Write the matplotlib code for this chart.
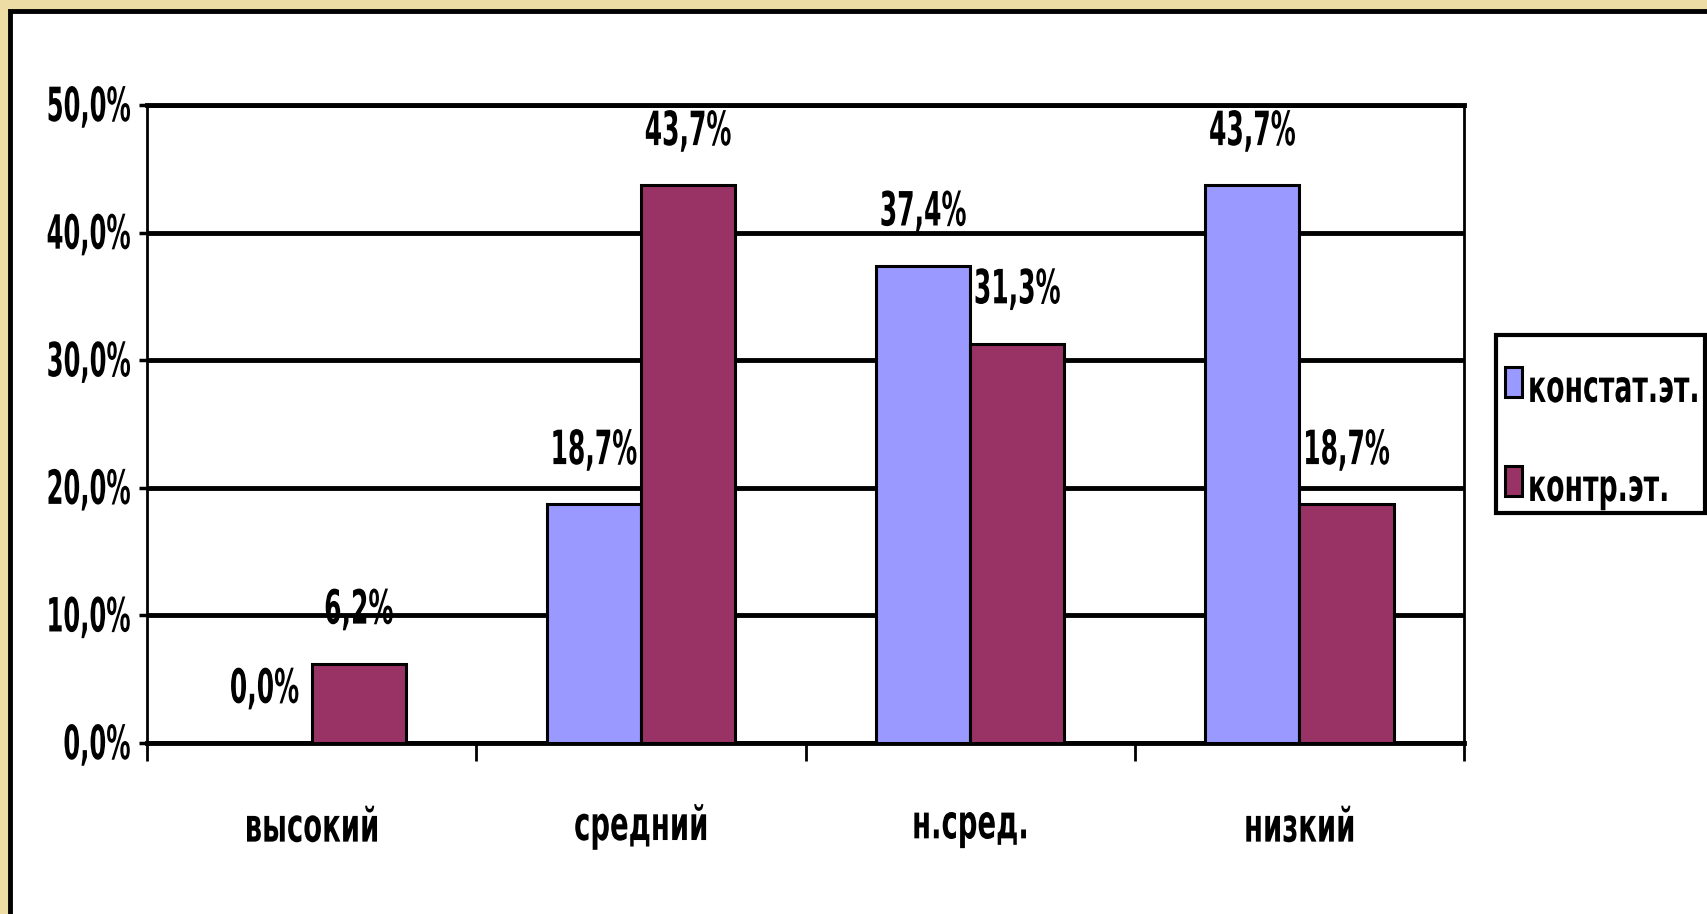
import numpy as np
import matplotlib.pyplot as plt
from matplotlib.patches import Rectangle
from matplotlib.ticker import FixedLocator, FuncFormatter
from matplotlib.transforms import Affine2D
from matplotlib import patheffects

plt.rcParams['font.family'] = ['DejaVu Sans']
plt.rcParams['font.stretch'] = 'condensed'
plt.rcParams['font.weight'] = 'bold'

levels = ["высокий", "средний", "н.сред.", "низкий"]
series = ["констат.эт.", "контр.эт."]
konstat = [0.0, 18.7, 37.4, 43.7]
kontr = [6.2, 43.7, 31.3, 18.7]
colors = ["#9999FF", "#993366"]


class Tall(patheffects.AbstractPathEffect):
    """Stretch glyphs vertically, about the baseline or the middle of the line."""

    def __init__(self, sy, anchor="middle"):
        super().__init__()
        self.sy = sy
        self.anchor = anchor

    def draw_path(self, renderer, gc, tpath, affine, rgbFace=None):
        ext = tpath.get_extents()
        b = 0.0 if self.anchor == "baseline" else (ext.y0 + ext.y1) / 2
        t = Affine2D().translate(0, -b).scale(1, self.sy).translate(0, b) + affine
        renderer.draw_path(gc, tpath, t, rgbFace)


def pct(v):
    return f"{v:.1f}%".replace(".", ",")


W, H = 1707, 914
fig = plt.figure(figsize=(W / 100, H / 100), dpi=100, facecolor="#EEDCA5")

def fx(px):
    return px / W

def fy(py):
    return 1 - py / H

# white card with black frame, cut by the right and bottom edges
card = Rectangle((fx(9.5), -0.05), 1.1, fy(10.5) + 0.05, transform=fig.transFigure,
                 facecolor="white", edgecolor="black", lw=3.5, zorder=-5)
fig.patches.append(card)

ax = fig.add_axes([fx(147), fy(743), fx(1464 - 147), (743 - 105) / H])
ax.set_facecolor("none")

x = np.arange(len(levels))
bw = 0.286
vals = [konstat, kontr]
for i, v in enumerate(vals):
    pos = x + (i - 0.5) * bw
    ax.bar(pos, np.array(v) / 100, bw, color=colors[i], edgecolor="black",
           lw=2.2, zorder=3)
    for px, val in zip(pos, v):
        ax.annotate(pct(val), (px, val / 100), xytext=(0, 29), textcoords="offset points",
                    ha="center", va="baseline", fontsize=20, zorder=4,
                    path_effects=[Tall(1.7, "baseline")])

ax.set_xlim(-0.5, len(levels) - 0.5)
ax.set_ylim(0, 0.5)
ax.set_yticks(np.arange(0, 0.51, 0.1))
ax.yaxis.set_major_formatter(FuncFormatter(lambda v, p: pct(v * 100)))
ax.yaxis.grid(True, color="black", lw=3.5, zorder=1)
ax.set_axisbelow(True)

ax.set_xticks(x)
ax.set_xticklabels(levels)
ax.xaxis.set_minor_locator(FixedLocator(np.arange(-0.5, len(levels), 1)))
ax.tick_params(axis="x", which="major", length=0, pad=50, labelsize=22)
ax.tick_params(axis="x", which="minor", length=13, width=2)
ax.tick_params(axis="y", length=6, width=2.5, pad=6, labelsize=19.4)
for lab in ax.get_xticklabels():
    lab.set_path_effects([Tall(1.54)])
for lab in ax.get_yticklabels():
    lab.set_path_effects([Tall(1.75)])

for s in ["left", "right"]:
    ax.spines[s].set_linewidth(2)
ax.spines["bottom"].set_linewidth(3.5)
ax.spines["top"].set_linewidth(3.5)

# legend box on the right
fig.patches.append(Rectangle((fx(1496), fy(513)), fx(1705 - 1496), (513 - 335) / H,
                             transform=fig.transFigure, facecolor="white",
                             edgecolor="black", lw=3, zorder=2))
for i, name in enumerate(series):
    yc = 382 + 99 * i
    fig.patches.append(Rectangle((fx(1505), fy(yc + 15)), fx(17), 30 / H,
                                 transform=fig.transFigure, facecolor=colors[i],
                                 edgecolor="black", lw=2.2, zorder=3))
    fig.text(fx(1528), fy(yc + 20), name, fontsize=21.4, ha="left", va="baseline",
             zorder=4, path_effects=[Tall(1.5, "baseline")])

fig.savefig("out.png", dpi=100, facecolor=fig.get_facecolor())
